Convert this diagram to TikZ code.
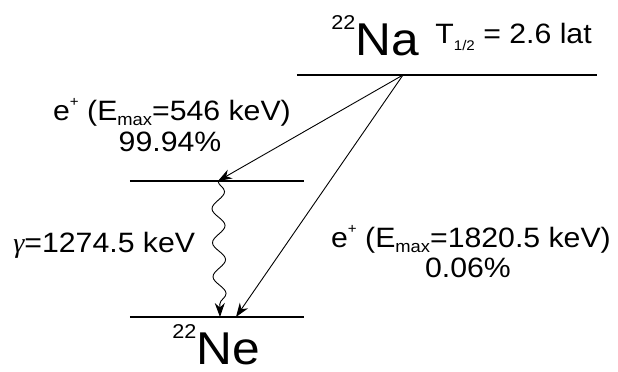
\documentclass[tikz,border=0pt]{standalone}
\usepackage{fontspec}
\setmainfont[FakeStretch=1.08]{Liberation Sans}
\newfontfamily\greekfont{Liberation Serif}
\usetikzlibrary{arrows.meta,decorations.pathmorphing}

\newcommand{\supscr}[1]{\raisebox{7pt}{\fontsize{7}{7}\selectfont #1}}
\newcommand{\subscr}[1]{\raisebox{-2.5pt}{\fontsize{8.5}{8.5}\selectfont #1}}
\newcommand{\massno}[1]{\raisebox{13pt}{\fontsize{10}{10}\selectfont #1}}

\tikzset{
  level/.style={line width=0.6pt},
  decay/.style={->, line width=0.45pt},
  iso/.style={inner sep=0pt, font=\fontsize{23}{23}\selectfont},
  lbl/.style={inner sep=0pt, font=\fontsize{14}{14}\selectfont}
}

\begin{document}
\begin{tikzpicture}[x=0.5pt, y=-0.5pt, >={Stealth[length=7pt,width=5pt]}]
    \useasboundingbox (0,0) rectangle (618,371);

    % Levels
    \coordinate (naL) at (297,75);
    \coordinate (naR) at (597,75);
    \coordinate (exL) at (130,181);
    \coordinate (exR) at (304,181);
    \coordinate (gsL) at (130,317);
    \coordinate (gsR) at (304,317);
    \draw[level] (naL) -- (naR);
    \draw[level] (exL) -- (exR);
    \draw[level] (gsL) -- (gsR);

    % Decays
    \coordinate (start) at (403,75);
    \coordinate (exHit) at (218,181);
    \coordinate (gsHitA) at (220,317);
    \coordinate (gsHitB) at (236,317);
    \draw[decay] (start) -- (exHit);
    \draw[decay] (start) -- (gsHitB);
    \draw[decay, decorate, decoration={snake, amplitude=3.2pt, segment length=17pt, post length=6pt}] (exHit) -- (gsHitA);

    % Isotopes
    \node[iso, anchor=base west] (na) at (331,55) {\massno{22}Na};
    \node[iso, anchor=base west] (ne) at (172,364) {\massno{22}Ne};
    \node[inner sep=0pt, anchor=base west, font=\fontsize{14}{14}\selectfont] (thalf) at (435,43)
        {T\raisebox{-3.5pt}{\fontsize{7}{7}\selectfont 1/2} = 2.6 lat};

    % Labels
    \node[lbl, anchor=base] (betaA) at (172,120) {e\supscr{+} (E\subscr{max}=546 keV)};
    \node[lbl, anchor=base] (probA) at (170,151) {99.94\%};
    \node[lbl, anchor=base] (betaB) at (471,247) {e\supscr{+} (E\subscr{max}=1820.5 keV)};
    \node[lbl, anchor=base] (probB) at (468,277) {0.06\%};
    \node[lbl, anchor=base west] (gamma) at (13,252) {{\greekfont\itshape γ}=1274.5 keV};
\end{tikzpicture}
\end{document}
